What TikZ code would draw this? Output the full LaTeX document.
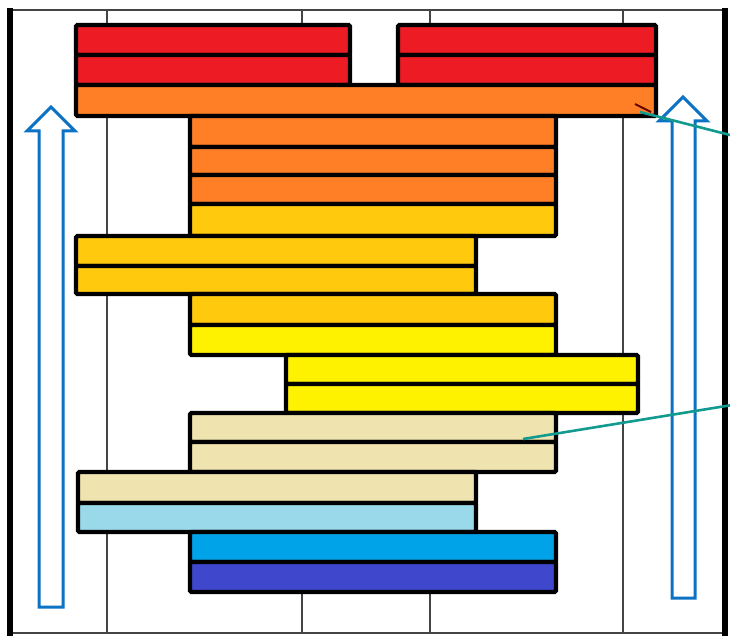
\documentclass[tikz,border=0pt]{standalone}
\definecolor{pred}{HTML}{ED1C24}
\definecolor{porange}{HTML}{FF7F27}
\definecolor{pgold}{HTML}{FFC90E}
\definecolor{pyellow}{HTML}{FFF200}
\definecolor{pbeige}{HTML}{EFE4B0}
\definecolor{plblue}{HTML}{99D9EA}
\definecolor{pturq}{HTML}{00A2E8}
\definecolor{pindigo}{HTML}{3F48CC}
\definecolor{arrowblue}{HTML}{0B72C4}
\definecolor{leadteal}{HTML}{129A8F}
\definecolor{gridgray}{HTML}{444444}
\tikzset{
  bar/.style={draw=black, line width=4.3pt, rounded corners=1.5pt, inner sep=0pt, outer sep=0pt, anchor=north west},
  gridline/.style={draw=gridgray, line width=1.2pt},
  frameside/.style={draw=black, line width=5.5pt},
  frametb/.style={draw=gridgray, line width=1.3pt},
  uparrow/.style={draw=arrowblue, line width=3pt, fill=white, line join=miter},
  leader/.style={draw=leadteal, line width=2.6pt}
}
\newcommand{\mkbar}[6]{\node[bar, fill=#6, minimum width={(#4-#2)*1pt}, minimum height={(#5-#3)*1pt}] (#1) at (#2,#3) {};}
\begin{document}
\begin{tikzpicture}[x=1pt,y=-1pt]
\useasboundingbox (0,0) rectangle (730,639);
% grid lines
\foreach \gx in {107,302,430,623} {
  \draw[gridline] (\gx,10) -- (\gx,633);
}
% frame
\draw[frametb] (8,10) -- (725,10);
\draw[frametb] (8,633) -- (725,633);
\draw[frameside] (10,8) -- (10,636);
\draw[frameside] (725,8) -- (725,636);
% bars
\mkbar{r1a}{76}{25}{350}{55}{pred}
\mkbar{r1b}{398}{25}{656}{55}{pred}
\mkbar{r2a}{76}{55}{350}{85}{pred}
\mkbar{r2b}{398}{55}{656}{85}{pred}
\mkbar{o1}{76}{85}{656}{116}{porange}
\mkbar{o2}{190}{116}{556}{147}{porange}
\mkbar{o3}{190}{147}{556}{175}{porange}
\mkbar{o4}{190}{175}{556}{204}{porange}
\mkbar{g1}{190}{204}{556}{236}{pgold}
\mkbar{g2}{76}{236}{476}{266}{pgold}
\mkbar{g3}{76}{266}{476}{294}{pgold}
\mkbar{g4}{190}{294}{556}{325}{pgold}
\mkbar{y1}{190}{325}{556}{355}{pyellow}
\mkbar{y2}{286}{355}{638}{384}{pyellow}
\mkbar{y3}{286}{384}{638}{413}{pyellow}
\mkbar{b1}{190}{413}{556}{442}{pbeige}
\mkbar{b2}{190}{442}{556}{472}{pbeige}
\mkbar{b3}{78}{472}{476}{503}{pbeige}
\mkbar{lb}{78}{503}{476}{532}{plblue}
\mkbar{tq}{190}{532}{556}{562}{pturq}
\mkbar{ind}{190}{562}{556}{592}{pindigo}
% hollow arrows
\draw[uparrow] (39,607) -- (63,607) -- (63,131) -- (75,131) -- (51,107) -- (27,131) -- (39,131) -- cycle;
\draw[uparrow] (672,598) -- (695,598) -- (695,121) -- (707,121) -- (683,97) -- (659,121) -- (672,121) -- cycle;
% leaders
\coordinate (l1s) at (640,112);
\coordinate (l1e) at (732,135.5);
\coordinate (l2s) at (523,439);
\coordinate (l2e) at (732,405);
\coordinate (m1) at (635,104);
\coordinate (m2) at (651,112);
\draw[draw=black!60!red, line width=2pt] (m1) -- (m2);
\draw[leader] (l1s) -- (l1e);
\draw[leader] (l2s) -- (l2e);
\end{tikzpicture}
\end{document}
